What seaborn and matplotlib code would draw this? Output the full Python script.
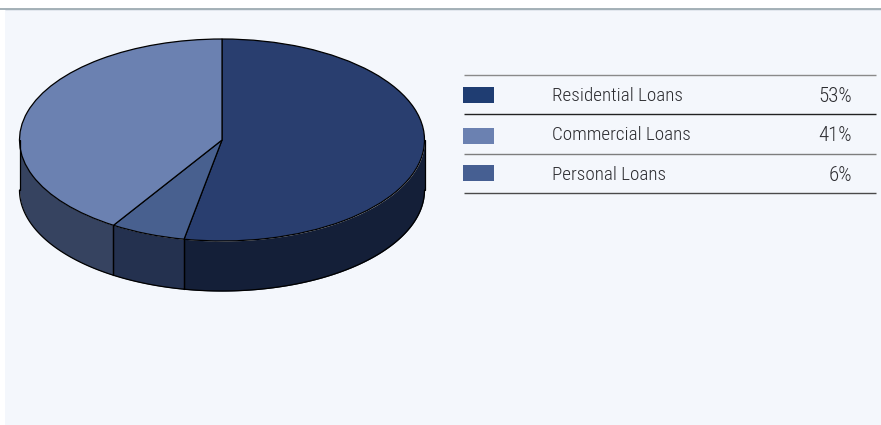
import numpy as np
import matplotlib
matplotlib.use("Agg")
import matplotlib.pyplot as plt
from matplotlib.patches import Rectangle
import seaborn as sns

categories = ["Residential Loans", "Commercial Loans", "Personal Loans"]
shares = [53, 41, 6]
share_labels = ["53%", "41%", "6%"]

# Slices run clockwise from twelve o'clock in this order
pie_order = [0, 2, 1]

swatch_colors = sns.color_palette(["#1f3d72", "#6b81b1", "#465f92"])
top_colors = {0: "#293e6f", 1: "#6b81b1", 2: "#48608f"}
side_colors = {0: "#141f38", 1: "#364360", 2: "#24314f"}

PANEL = "#f4f7fc"
W, H = 881, 425

sns.set_theme(style="white")
plt.rcParams["font.family"] = ["Roboto Condensed", "Fira Sans Extra Condensed", "Liberation Sans", "DejaVu Sans"]

fig = plt.figure(figsize=(W / 100, H / 100), dpi=100, facecolor="white")

# Full-figure layer measured in pixels for the panel and the key table
bg = fig.add_axes([0, 0, 1, 1], zorder=0)
bg.set_xlim(0, W)
bg.set_ylim(H, 0)
bg.axis("off")
bg.add_patch(Rectangle((5, 9), W - 5, H - 9, fc=PANEL, ec="none"))
bg.plot([0, W], [8.5, 8.5], color="#8b9ba3", lw=1.1, solid_capstyle="butt")
bg.plot([5, W], [9.6, 9.6], color="#dfe5ec", lw=0.6, solid_capstyle="butt")

# Flattened pie: unit circle stretched to an ellipse, with room below for the rim
cx, cy, rx, ry, depth_px = 222, 140, 202.5, 101, 50
depth = depth_px / ry
ax = fig.add_axes([(cx - rx) / W, 1 - (cy + ry + depth_px) / H,
                   2 * rx / W, (2 * ry + depth_px) / H], zorder=1)

values = [shares[i] for i in pie_order]
edges = 90 - np.cumsum([0] + values) / sum(values) * 360

# Rim first: only the part of each slice on the near side of the ellipse
for k, i in enumerate(pie_order):
    start, stop = max(edges[k + 1], -180), min(edges[k], 0)
    if stop <= start:
        continue
    t = np.radians(np.linspace(start, stop, 120))
    x, y = np.cos(t), np.sin(t)
    ax.fill_between(x, y - depth, y, color=side_colors[i], lw=0, clip_on=False)
    ax.plot(x, y - depth, color="black", lw=0.9, clip_on=False)
    for a in (start, stop):
        ra = np.radians(a)
        ax.plot([np.cos(ra)] * 2, [np.sin(ra), np.sin(ra) - depth],
                color="black", lw=0.9, clip_on=False)

wedges, _ = ax.pie(values, colors=[top_colors[i] for i in pie_order],
                   startangle=90, counterclock=False, radius=1,
                   wedgeprops=dict(edgecolor="black", linewidth=0.9))
for w in wedges:
    w.set_clip_on(False)

ax.set_aspect("auto")
ax.set_xlim(-1, 1)
ax.set_ylim(-1 - depth, 1)
ax.axis("off")

# Key table
rule_x = (464, 876)
rules = [(75, "#8a8a8a"), (114, "#222222"), (153.7, "#7d7d7d"), (193, "#4a4a4a")]
for y, c in rules:
    bg.plot(rule_x, [y, y], color=c, lw=1.0, solid_capstyle="butt")

swatch_y = [87, 128, 165]
text_y = [96, 135.5, 175]
for name, pct, col, sy, ty in zip(categories, share_labels, swatch_colors, swatch_y, text_y):
    bg.add_patch(Rectangle((463, sy), 31, 16, fc=col, ec="none"))
    bg.text(551.5, ty, name, fontsize=13.8, fontweight=300, color="#2c2c30", va="center", ha="left")
    bg.text(852, ty, pct, fontsize=15, fontweight=300, color="#2c2c30", va="center", ha="right")

fig.savefig("out.png", dpi=100, facecolor="white")
